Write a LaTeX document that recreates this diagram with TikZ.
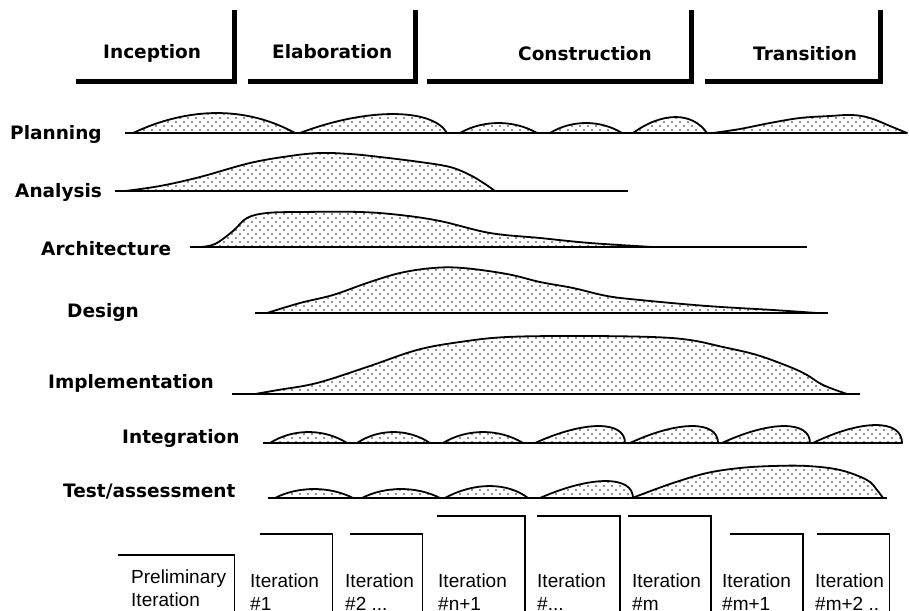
\documentclass[tikz,border=0pt]{standalone}
\usepackage{fontspec}
\setmainfont{Liberation Sans}
\newfontfamily\headfont{DejaVu Sans}
\usetikzlibrary{patterns}
\pgfdeclarepatternformonly{stipple}{\pgfqpoint{-1pt}{-1pt}}{\pgfqpoint{7pt}{7pt}}{\pgfqpoint{8pt}{8pt}}{%
  \pgfpathrectangle{\pgfqpoint{-0.6pt}{-0.6pt}}{\pgfqpoint{1.2pt}{1.2pt}}%
  \pgfpathrectangle{\pgfqpoint{3.4pt}{3.4pt}}{\pgfqpoint{1.2pt}{1.2pt}}%
  \pgfusepath{fill}}

\begin{document}
\begin{tikzpicture}[x=1pt, y=-1pt,
  phase/.style={line width=5pt},
  phaselabel/.style={anchor=base west, inner sep=0pt,
                     font=\headfont\bfseries\fontsize{18.5}{22}\selectfont},
  worklabel/.style={phaselabel},
  track/.style={line width=1.6pt},
  effort/.style={draw, line width=1.8pt, pattern=stipple, line join=round},
  iter/.style={line width=1.4pt},
  iterlabel/.style={anchor=base west, inner sep=0pt, align=left,
                    font=\fontsize{19}{23.5}\selectfont}
]
\useasboundingbox (0,0) rectangle (909,610);
\clip (0,0) rectangle (909,610);

% phases
\draw[phase] (76,81.5) -- (234.5,81.5) -- (234.5,10);
\draw[phase] (248,81.5) -- (415,81.5) -- (415,10);
\draw[phase] (427,81.5) -- (691,81.5) -- (691,10);
\draw[phase] (705,81.5) -- (880,81.5) -- (880,10);
\node[phaselabel] (inception)    at (103,59) {Inception};
\node[phaselabel] (elaboration)  at (272,59) {Elaboration};
\node[phaselabel] (construction) at (518,60) {Construction};
\node[phaselabel] (transition)   at (753,60) {Transition};

% workflows
\node[worklabel] (planning)   at (10,139)  {Planning};
\node[worklabel] (analysis)   at (15,197)  {Analysis};
\node[worklabel] (architect)  at (41,255)  {Architecture};
\node[worklabel] (design)     at (67,317)  {Design};
\node[worklabel] (implement)  at (48,388)  {Implementation};
\node[worklabel] (integrate)  at (122,443) {Integration};
\node[worklabel] (test)       at (63,497)  {Test/assessment};

\draw[track] (125,133) -- (907,133);
\draw[track] (115,191) -- (628,191);
\draw[track] (190,247) -- (807,247);
\draw[track] (255,313) -- (828,313);
\draw[track] (232,394) -- (860,394);
\draw[track] (263,443) -- (902,443);
\draw[track] (268,498) -- (887,498);

\foreach \y/\a/\b/\h/\p/\q in {133/133/295/20/.35/.3, 133/300/447/19/.45/.1,
    133/460/537/10/.3/.3, 133/550/622/10/.3/.3, 133/633/707/16/.4/.2,
    443/270/347/11/.3/.3, 443/357/430/11/.3/.3, 443/443/523/11/.3/.3,
    443/535/625/17/.55/0, 443/630/718/17/.55/0, 443/722/810/17/.55/0,
    443/813/902/18/.55/0,
    498/275/353/9/.3/.3, 498/362/440/9/.3/.3, 498/445/528/12/.35/.25,
    498/540/633/17/.55/0}
  \draw[effort] (\a,\y) .. controls ({\a+\p*(\b-\a)},{\y-1.33*\h})
    and ({\b-\q*(\b-\a)},{\y-1.33*\h}) .. (\b,\y) -- cycle;

\draw[effort] plot[smooth, tension=0.6] coordinates {(713,133) (740,129)
  (770,123) (800,118) (830,116) (852,115) (870,118) (890,126) (907,133)} -- cycle;
\draw[effort] plot[smooth, tension=0.6] coordinates {(125,191) (160,186)
  (200,177) (250,163) (290,156) (320,153) (350,154) (380,157) (420,162)
  (450,167) (470,175) (485,184) (495,191)} -- cycle;
\draw[effort] plot[smooth, tension=0.6] coordinates {(200,247) (215,244)
  (233,231) (247,218) (267,213) (300,212) (360,212) (400,215) (440,221)
  (490,233) (540,238) (590,243) (653,247)} -- cycle;
\draw[effort] plot[smooth, tension=0.6] coordinates {(267,313) (300,303)
  (333,295) (367,283) (400,273) (433,268) (463,268) (507,274) (540,282)
  (573,288) (607,296) (640,300) (707,306) (773,310) (817,313)} -- cycle;
\draw[effort] plot[smooth, tension=0.6] coordinates {(255,394) (278,390)
  (317,383) (367,367) (417,350) (460,342) (507,337) (580,336) (652,337)
  (690,340) (723,347) (757,355) (790,367) (807,375) (823,385) (847,394)} -- cycle;
\draw[effort] plot[smooth, tension=0.6] coordinates {(633,498) (640,495)
  (673,483) (707,473) (740,468) (773,466) (807,466) (840,470) (867,480)
  (877,490) (883,498)} -- cycle;

% iterations
\foreach \l/\r/\t in {118/234.7/555, 260/332.3/534, 350/422.7/534,
    437/525/516, 537/620/516, 628/711/516, 730/803/534, 817/889.3/534}
  \draw[iter] (\l,\t) -- (\r,\t) -- (\r,615);
\node[iterlabel] (prelim)   at (131,606.5) {Preliminary\\Iteration};
\node[iterlabel] (iter1)    at (250,610.5) {Iteration\\\#1};
\node[iterlabel] (iter2)    at (345,610.5) {Iteration\\\#2 ...};
\node[iterlabel] (itern)    at (438,610.5) {Iteration\\\#n+1};
\node[iterlabel] (iterdots) at (537,610.5) {Iteration\\\#...};
\node[iterlabel] (iterm)    at (632,610.5) {Iteration\\\#m};
\node[iterlabel] (iterm1)   at (722,610.5) {Iteration\\\#m+1};
\node[iterlabel] (iterm2)   at (815,610.5) {Iteration\\\#m+2 ..};
\end{tikzpicture}
\end{document}
